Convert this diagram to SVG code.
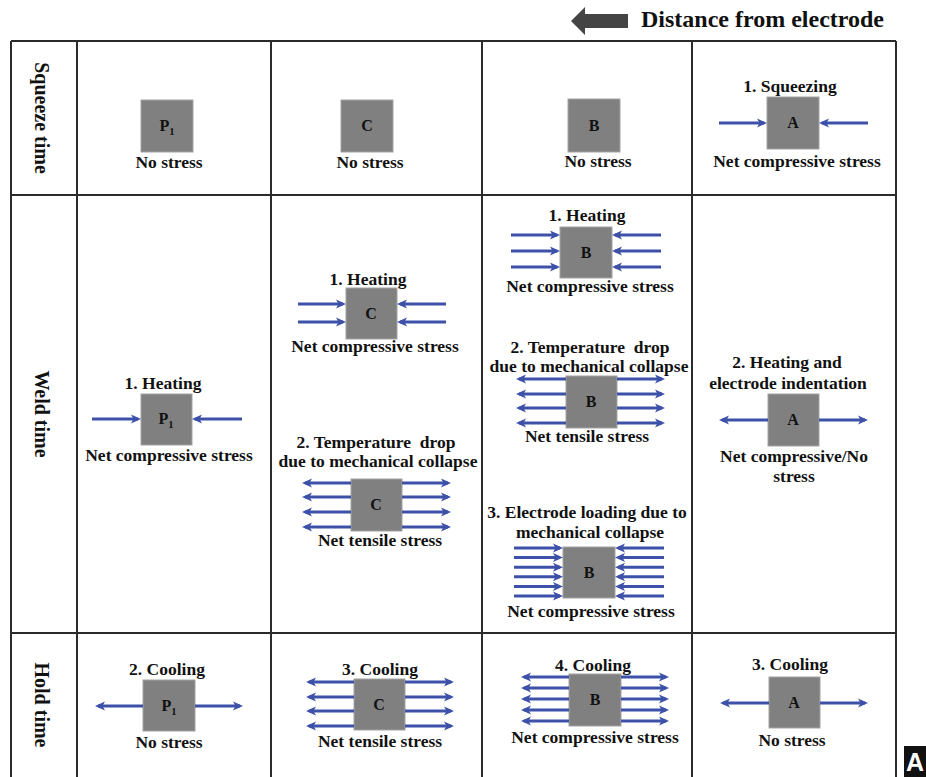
<svg xmlns="http://www.w3.org/2000/svg" width="926" height="777" viewBox="0 0 926 777">
<style>
.grid{stroke:#2b2b2b;stroke-width:2;fill:none}
.box{fill:#808080;stroke:#a3a3a3;stroke-width:1}
.t{font-family:"Liberation Serif","Times New Roman",serif;font-weight:bold;font-size:17.5px;fill:#111;text-anchor:middle}
.bl{font-size:16px}
.row{font-size:20px}
.ar{stroke:#3d51a8;stroke-width:3;fill:none;marker-end:url(#ah)}
</style>
<defs>
<marker id="ah" markerUnits="userSpaceOnUse" markerWidth="12" markerHeight="11" refX="7" refY="5" orient="auto">
<path d="M0,0.5 L10,5 L0,9.5 L2.5,5 Z" fill="#3d51a8"/>
</marker>
</defs>
<rect width="926" height="777" fill="#fff"/>

<g id="header">
<polygon points="571,21 585,7 585,14 628,14 628,28 585,28 585,35" fill="#444"/>
<text x="641" y="27" style="font-family:'Liberation Serif','Times New Roman',serif;font-weight:bold;font-size:24px;fill:#111">Distance from electrode</text>
</g>

<g id="table">
<line class="grid" x1="11" y1="41" x2="896" y2="41"/>
<line class="grid" x1="11" y1="195" x2="896" y2="195"/>
<line class="grid" x1="11" y1="633" x2="896" y2="633"/>
<line class="grid" x1="11" y1="41" x2="11" y2="777"/>
<line class="grid" x1="77" y1="41" x2="77" y2="777"/>
<line class="grid" x1="271" y1="41" x2="271" y2="777"/>
<line class="grid" x1="482" y1="41" x2="482" y2="777"/>
<line class="grid" x1="692" y1="41" x2="692" y2="777"/>
<line class="grid" x1="896" y1="41" x2="896" y2="777"/>
</g>

<g id="row-labels">
<text class="t row" transform="translate(42,118) rotate(90)" dominant-baseline="central">Squeeze time</text>
<text class="t row" transform="translate(42,414) rotate(90)" dominant-baseline="central">Weld time</text>
<text class="t row" transform="translate(42,705) rotate(90)" dominant-baseline="central">Hold time</text>
</g>

<g id="squeeze-P1">
<rect class="box" x="141" y="100" width="52" height="52"/>
<text class="t bl" x="167" y="131">P<tspan font-size="10.5" dy="4">1</tspan></text>
<text class="t" x="169" y="168">No stress</text>
</g>
<g id="squeeze-C">
<rect class="box" x="341" y="100" width="52" height="52"/>
<text class="t bl" x="367" y="131">C</text>
<text class="t" x="370" y="168">No stress</text>
</g>
<g id="squeeze-B">
<rect class="box" x="568" y="99" width="52" height="53"/>
<text class="t bl" x="594" y="131">B</text>
<text class="t" x="598" y="167">No stress</text>
</g>
<g id="squeeze-A">
<text class="t" x="790" y="92">1. Squeezing</text>
<rect class="box" x="767" y="97" width="52" height="52"/>
<text class="t bl" x="793" y="128">A</text>
<text class="t" x="797" y="167">Net compressive stress</text>
</g>

<g id="weld-P1">
<text class="t" x="163" y="389">1. Heating</text>
<rect class="box" x="141" y="394" width="51" height="51"/>
<text class="t bl" x="166" y="424">P<tspan font-size="10.5" dy="4">1</tspan></text>
<text class="t" x="169" y="461">Net compressive stress</text>
</g>
<g id="weld-C1">
<text class="t" x="368" y="285">1. Heating</text>
<rect class="box" x="346" y="288" width="51" height="51"/>
<text class="t bl" x="371" y="319">C</text>
<text class="t" x="375" y="352">Net compressive stress</text>
</g>
<g id="weld-C2">
<text class="t" x="376" y="448" xml:space="preserve">2. Temperature  drop</text>
<text class="t" x="378" y="467">due to mechanical collapse</text>
<rect class="box" x="351" y="479" width="51" height="52"/>
<text class="t bl" x="376" y="510">C</text>
<text class="t" x="380" y="546">Net tensile stress</text>
</g>
<g id="weld-B1">
<text class="t" x="587" y="221">1. Heating</text>
<rect class="box" x="560" y="227" width="52" height="51"/>
<text class="t bl" x="586" y="258">B</text>
<text class="t" x="590" y="292">Net compressive stress</text>
</g>
<g id="weld-B2">
<text class="t" x="590" y="353" xml:space="preserve">2. Temperature  drop</text>
<text class="t" x="589" y="372">due to mechanical collapse</text>
<rect class="box" x="566" y="376" width="51" height="52"/>
<text class="t bl" x="591" y="407">B</text>
<text class="t" x="587" y="442">Net tensile stress</text>
</g>
<g id="weld-B3">
<text class="t" x="587" y="518">3. Electrode loading due to</text>
<text class="t" x="590" y="538">mechanical collapse</text>
<rect class="box" x="563" y="547" width="52" height="51"/>
<text class="t bl" x="589" y="578">B</text>
<text class="t" x="591" y="617">Net compressive stress</text>
</g>
<g id="weld-A">
<text class="t" x="787" y="368">2. Heating and</text>
<text class="t" x="788" y="389">electrode indentation</text>
<rect class="box" x="768" y="394" width="51" height="52"/>
<text class="t bl" x="793" y="425">A</text>
<text class="t" x="794" y="462">Net compressive/No</text>
<text class="t" x="794" y="482">stress</text>
</g>

<g id="hold-P1">
<text class="t" x="167" y="675">2. Cooling</text>
<rect class="box" x="143" y="680" width="52" height="51"/>
<text class="t bl" x="169" y="711">P<tspan font-size="10.5" dy="4">1</tspan></text>
<text class="t" x="169" y="748">No stress</text>
</g>
<g id="hold-C">
<text class="t" x="380" y="675">3. Cooling</text>
<rect class="box" x="354" y="679" width="51" height="51"/>
<text class="t bl" x="379" y="710">C</text>
<text class="t" x="380" y="747">Net tensile stress</text>
</g>
<g id="hold-B">
<text class="t" x="593" y="671">4. Cooling</text>
<rect class="box" x="569" y="674" width="52" height="52"/>
<text class="t bl" x="595" y="705">B</text>
<text class="t" x="595" y="743">Net compressive stress</text>
</g>
<g id="hold-A">
<text class="t" x="790" y="670">3. Cooling</text>
<rect class="box" x="769" y="677" width="51" height="51"/>
<text class="t bl" x="794" y="708">A</text>
<text class="t" x="792" y="746">No stress</text>
</g>

<g id="arrows">
<line class="ar" x1="719" y1="123" x2="764" y2="123"/>
<line class="ar" x1="868" y1="123" x2="822" y2="123"/>

<line class="ar" x1="92" y1="419" x2="138" y2="419"/>
<line class="ar" x1="242" y1="419" x2="195" y2="419"/>

<line class="ar" x1="298" y1="304" x2="343" y2="304"/>
<line class="ar" x1="298" y1="322" x2="343" y2="322"/>
<line class="ar" x1="446" y1="304" x2="400" y2="304"/>
<line class="ar" x1="446" y1="322" x2="400" y2="322"/>

<line class="ar" x1="351" y1="483" x2="305" y2="483"/>
<line class="ar" x1="351" y1="497" x2="305" y2="497"/>
<line class="ar" x1="351" y1="512" x2="305" y2="512"/>
<line class="ar" x1="351" y1="527" x2="305" y2="527"/>
<line class="ar" x1="402" y1="483" x2="448" y2="483"/>
<line class="ar" x1="402" y1="497" x2="448" y2="497"/>
<line class="ar" x1="402" y1="512" x2="448" y2="512"/>
<line class="ar" x1="402" y1="527" x2="448" y2="527"/>

<line class="ar" x1="511" y1="235" x2="557" y2="235"/>
<line class="ar" x1="511" y1="251" x2="557" y2="251"/>
<line class="ar" x1="511" y1="267" x2="557" y2="267"/>
<line class="ar" x1="661" y1="235" x2="615" y2="235"/>
<line class="ar" x1="661" y1="251" x2="615" y2="251"/>
<line class="ar" x1="661" y1="267" x2="615" y2="267"/>

<line class="ar" x1="566" y1="379" x2="519" y2="379"/>
<line class="ar" x1="566" y1="394" x2="519" y2="394"/>
<line class="ar" x1="566" y1="408" x2="519" y2="408"/>
<line class="ar" x1="566" y1="423" x2="519" y2="423"/>
<line class="ar" x1="617" y1="379" x2="662" y2="379"/>
<line class="ar" x1="617" y1="394" x2="662" y2="394"/>
<line class="ar" x1="617" y1="408" x2="662" y2="408"/>
<line class="ar" x1="617" y1="423" x2="662" y2="423"/>

<line class="ar" x1="514" y1="548" x2="560" y2="548"/>
<line class="ar" x1="514" y1="557.6" x2="560" y2="557.6"/>
<line class="ar" x1="514" y1="567.2" x2="560" y2="567.2"/>
<line class="ar" x1="514" y1="576.8" x2="560" y2="576.8"/>
<line class="ar" x1="514" y1="586.4" x2="560" y2="586.4"/>
<line class="ar" x1="514" y1="596" x2="560" y2="596"/>
<line class="ar" x1="664" y1="548" x2="618" y2="548"/>
<line class="ar" x1="664" y1="557.6" x2="618" y2="557.6"/>
<line class="ar" x1="664" y1="567.2" x2="618" y2="567.2"/>
<line class="ar" x1="664" y1="576.8" x2="618" y2="576.8"/>
<line class="ar" x1="664" y1="586.4" x2="618" y2="586.4"/>
<line class="ar" x1="664" y1="596" x2="618" y2="596"/>

<line class="ar" x1="768" y1="420" x2="722" y2="420"/>
<line class="ar" x1="819" y1="420" x2="865" y2="420"/>

<line class="ar" x1="143" y1="706" x2="98" y2="706"/>
<line class="ar" x1="195" y1="706" x2="240" y2="706"/>

<line class="ar" x1="354" y1="682" x2="309" y2="682"/>
<line class="ar" x1="354" y1="697" x2="309" y2="697"/>
<line class="ar" x1="354" y1="711" x2="309" y2="711"/>
<line class="ar" x1="354" y1="726" x2="309" y2="726"/>
<line class="ar" x1="405" y1="682" x2="451" y2="682"/>
<line class="ar" x1="405" y1="697" x2="451" y2="697"/>
<line class="ar" x1="405" y1="711" x2="451" y2="711"/>
<line class="ar" x1="405" y1="726" x2="451" y2="726"/>

<line class="ar" x1="569" y1="677" x2="524" y2="677"/>
<line class="ar" x1="569" y1="688" x2="524" y2="688"/>
<line class="ar" x1="569" y1="699" x2="524" y2="699"/>
<line class="ar" x1="569" y1="710" x2="524" y2="710"/>
<line class="ar" x1="569" y1="721" x2="524" y2="721"/>
<line class="ar" x1="621" y1="677" x2="666" y2="677"/>
<line class="ar" x1="621" y1="688" x2="666" y2="688"/>
<line class="ar" x1="621" y1="699" x2="666" y2="699"/>
<line class="ar" x1="621" y1="710" x2="666" y2="710"/>
<line class="ar" x1="621" y1="721" x2="666" y2="721"/>

<line class="ar" x1="769" y1="703" x2="723" y2="703"/>
<line class="ar" x1="820" y1="703" x2="865" y2="703"/>
</g>

<g id="panel-label">
<rect x="904" y="746" width="22" height="31" fill="#111"/>
<text x="915" y="771" style="font-family:'Liberation Sans',Arial,sans-serif;font-weight:bold;font-size:25px;fill:#fff;text-anchor:middle">A</text>
</g>
</svg>
